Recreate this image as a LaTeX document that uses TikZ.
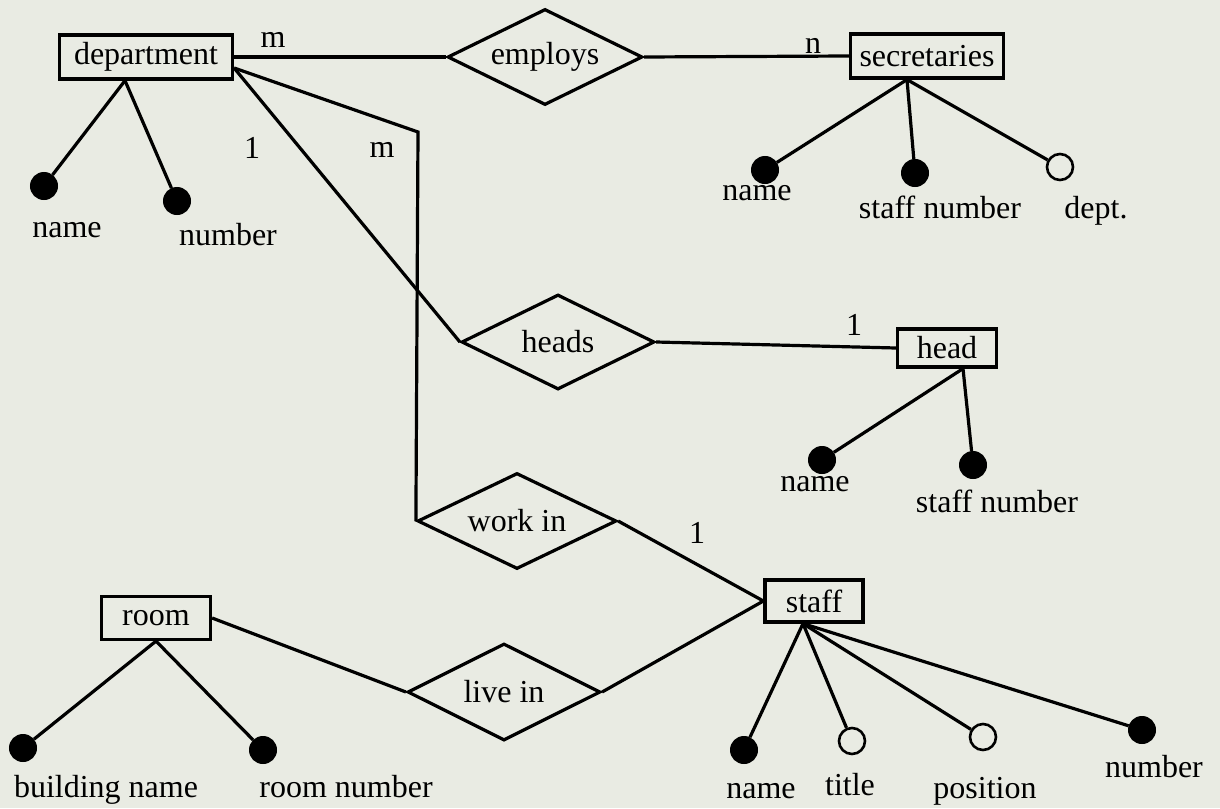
\documentclass[tikz,border=0pt]{standalone}
\usepackage{fontspec}
\setmainfont{Liberation Serif}
\usetikzlibrary{shapes.geometric,calc}
\definecolor{paper}{RGB}{233,235,227}
\begin{document}
\begin{tikzpicture}[x=1pt,y=-1pt,
  every node/.style={font=\fontsize{32}{38}\selectfont},
  ent/.style={draw, line width=3.2pt, minimum height=44pt, inner sep=0pt},
  rel/.style={draw, diamond, aspect=2, line width=3.2pt, minimum width=195pt, minimum height=96pt, inner sep=0pt},
  key/.style={circle, fill=black, draw, line width=1pt, minimum size=27pt, inner sep=0pt},
  opt/.style={circle, fill=paper, draw, line width=2.6pt, minimum size=26pt, inner sep=0pt},
  lbl/.style={inner sep=0pt, anchor=base},
  conn/.style={line width=3.2pt},
]
\fill[paper] (0,0) rectangle (1220,808);
\useasboundingbox (0,0) rectangle (1220,808);

% entities and relationships
\node[ent, minimum width=173pt] (dept) at (146,57) {department};
\node[rel] (employs) at (545,57) {employs};
\node[ent, minimum width=153pt] (sec) at (927,56) {secretaries};
\node[rel, minimum width=193pt, minimum height=95pt] (heads) at (558,342) {heads};
\node[ent, minimum width=99pt, minimum height=38pt] (head) at (947,348) {head};
\node[rel, minimum width=199pt] (workin) at (517,521) {work in};
\node[ent, minimum width=98pt, minimum height=42pt] (staff) at (814,601) {staff};
\node[ent, minimum width=109pt, minimum height=43pt] (room) at (156,618) {room};
\node[rel, minimum width=193pt, minimum height=97pt] (livein) at (504,692) {live in};

% relationship connectors
\draw[conn] (dept.east) -- (employs.west);
\draw[conn] (employs.east) -- (sec.west);
\coordinate (dr) at ($(dept.east)+(0,11)$);
\coordinate (bend) at (418,132);
\draw[conn] (dr) -- (heads.west);
\draw[conn] (heads.east) -- (head.west);
\draw[conn] (dr) -- (bend) -- (workin.west);
\draw[conn] (workin.east) -- (staff.west);
\draw[conn] (livein.east) -- (staff.west);
\draw[conn] (room.east) -- (livein.west);

% cardinalities
\node[lbl] (c1) at (273,48) {m};
\node[lbl] (c2) at (813,53) {n};
\node[lbl] (c3) at (252,158) {1};
\node[lbl] (c4) at (382,157) {m};
\node[lbl] (c5) at (854,335) {1};
\node[lbl] (c6) at (697,543) {1};

% department attributes
\coordinate (da) at ($(dept.south)+(-21,0)$);
\node[key] (dname) at (44,186) {};
\node[key] (dnum) at (177,201) {};
\draw[conn] (da) -- (dname);
\draw[conn] (da) -- (dnum);
\node[lbl] (ldname) at (67,237) {name};
\node[lbl] (ldnum) at (228,245) {number};

% secretaries attributes
\coordinate (sa) at ($(sec.south)+(-20,0)$);
\node[key] (sname) at (765,170) {};
\node[key] (snum) at (915,173) {};
\node[opt] (sdept) at (1060,167) {};
\draw[conn] (sa) -- (sname);
\draw[conn] (sa) -- (snum);
\draw[conn] (sa) -- (sdept);
\node[lbl] (lsname) at (757,200) {name};
\node[lbl] (lsnum) at (940,218) {staff number};
\node[lbl] (lsdept) at (1096,218) {dept.};

% head attributes
\coordinate (ha) at ($(head.south)+(16,0)$);
\node[key] (hname) at (822,460) {};
\node[key] (hnum) at (973,465) {};
\draw[conn] (ha) -- (hname);
\draw[conn] (ha) -- (hnum);
\node[lbl] (lhname) at (815,491) {name};
\node[lbl] (lhnum) at (997,512) {staff number};

% room attributes
\coordinate (ra) at (room.south);
\node[key] (rbname) at (23,748) {};
\node[key] (rnum) at (263,750) {};
\draw[conn] (ra) -- (rbname);
\draw[conn] (ra) -- (rnum);
\node[lbl] (lrbname) at (106,797) {building name};
\node[lbl] (lrnum) at (346,797) {room number};

% staff attributes
\coordinate (sta) at ($(staff.south)+(-11,0)$);
\node[key] (stname) at (744,750) {};
\node[opt] (sttitle) at (852,741) {};
\node[opt] (stpos) at (983,737) {};
\node[key] (stnum) at (1142,730) {};
\draw[conn] (sta) -- (stname);
\draw[conn] (sta) -- (sttitle);
\draw[conn] (sta) -- (stpos);
\draw[conn] (sta) -- (stnum);
\node[lbl] (lstname) at (761,798) {name};
\node[lbl] (lsttitle) at (850,795) {title};
\node[lbl] (lstpos) at (985,798) {position};
\node[lbl] (lstnum) at (1154,777) {number};
\end{tikzpicture}
\end{document}
